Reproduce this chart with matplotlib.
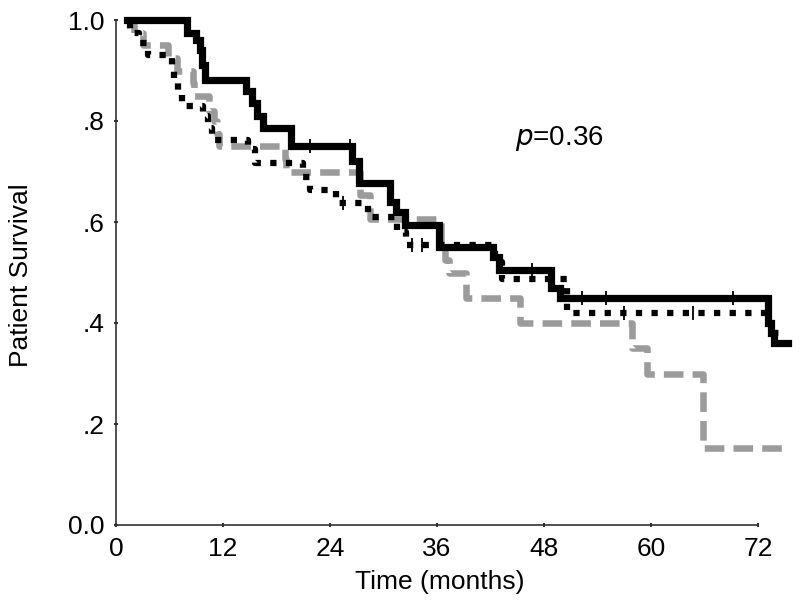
import numpy as np
import matplotlib
matplotlib.use("Agg")
import matplotlib.pyplot as plt

plt.rcParams['font.family'] = ['Liberation Sans', 'DejaVu Sans']

# ---- data (Kaplan-Meier step functions) ----
solid_t = [1.2, 8.0, 9.0, 9.4, 9.7, 10.0, 14.6, 15.2, 15.8, 16.5, 19.6, 26.5, 27.2,
           30.7, 31.4, 32.4, 36.2, 42.3, 43.0, 48.8, 49.8, 73.1, 73.4, 73.8]
solid_s = [1.0, 0.975, 0.96, 0.94, 0.91, 0.881, 0.86, 0.835, 0.81, 0.786, 0.75, 0.72, 0.677,
           0.64, 0.62, 0.594, 0.55, 0.53, 0.505, 0.47, 0.45, 0.40, 0.38, 0.36]
solid_end = 75.4
solid_cens = [21.8, 26.2, 46.7, 52.3, 55.0, 69.2]

dot_t = [1.2, 1.6, 2.6, 3.6, 6.3, 6.5, 7.0, 7.4, 9.8, 10.3, 10.8, 14.8, 15.6, 21.0,
         21.8, 24.7, 28.3, 31.5, 32.5, 42.5, 43.3, 50.6, 73.2, 73.8]
dot_s = [0.99, 0.975, 0.955, 0.93, 0.91, 0.88, 0.857, 0.83, 0.81, 0.786, 0.762, 0.745,
         0.717, 0.69, 0.663, 0.638, 0.61, 0.58, 0.554, 0.52, 0.487, 0.42, 0.40, 0.38]
dot_end = 74.6
dot_cens = [25.5, 33.2, 34.3, 57.0, 64.7]

gray_t = [1.2, 2.0, 3.0, 5.8, 6.8, 8.6, 8.8, 10.4, 11.0, 11.3, 11.5, 18.9, 19.1, 27.4,
          28.5, 36.5, 36.9, 37.3, 39.2, 45.3, 57.9, 59.5, 65.8]
gray_s = [1.0, 0.975, 0.95, 0.925, 0.90, 0.875, 0.85, 0.82, 0.80, 0.775, 0.75, 0.725, 0.70,
          0.653, 0.605, 0.55, 0.525, 0.50, 0.45, 0.40, 0.35, 0.30, 0.152]
gray_end = 75.4

x_ticks = [0, 12, 24, 36, 48, 60, 72]
y_ticks = [0.0, 0.2, 0.4, 0.6, 0.8, 1.0]
y_ticklabels = ['0.0', '.2', '.4', '.6', '.8', '1.0']

# ---- figure ----
fig = plt.figure(figsize=(8.0, 6.07), dpi=100)
ax = fig.add_axes([116/800, 82/607, 677.7/800, 505/607])

def km_xy(t, s, end):
    x = list(t) + [end]
    y = list(s) + [s[-1]]
    return x, y

def surv_at(t, s, q):
    idx = np.searchsorted(np.asarray(t), np.asarray(q), side='right') - 1
    return np.asarray(s)[idx]

gx, gy = km_xy(gray_t, gray_s, gray_end)
ln, = ax.step(gx, gy, where='post', color='#9b9b9b', lw=4.7, clip_on=False, zorder=2)
ln.set_dashes([3.0, 1.4])
ln.set_dash_capstyle('butt')

dx, dy = km_xy(dot_t, dot_s, dot_end)
ln2, = ax.step(dx, dy, where='post', color='black', lw=4.5, clip_on=False, zorder=3)
ln2.set_dashes([1.0, 1.5])
ln2.set_dash_capstyle('butt')

sx, sy = km_xy(solid_t, solid_s, solid_end)
ax.step(sx, sy, where='post', color='black', lw=5.2, clip_on=False, zorder=4,
        solid_joinstyle='miter')

ax.plot(solid_cens, surv_at(solid_t, solid_s, solid_cens), ls='none', marker='|',
        ms=9.5, mew=1.3, color='black', zorder=5)
ax.plot(dot_cens, surv_at(dot_t, dot_s, dot_cens), ls='none', marker='|',
        ms=9.5, mew=1.3, color='black', zorder=5)

ax.set_xlim(0, 76)
ax.set_ylim(0, 1.0)
ax.set_xticks(x_ticks)
ax.set_yticks(y_ticks)
ax.set_yticklabels(y_ticklabels)

for side in ['top', 'right']:
    ax.spines[side].set_visible(False)
ax.spines['left'].set_bounds(0, 1.0)
ax.spines['bottom'].set_bounds(0, 72)
for side in ['left', 'bottom']:
    ax.spines[side].set_linewidth(1.2)
    ax.spines[side].set_color('#333333')

ax.tick_params(axis='both', direction='inout', length=3, width=1.5, colors='#333333',
               labelsize=19, labelcolor='black')
ax.tick_params(axis='y', pad=7)
ax.tick_params(axis='x', pad=7)

ax.set_xlabel('Time (months)', fontsize=19)
ax.set_ylabel('Patient Survival', fontsize=19)
ax.xaxis.set_label_coords((440-116)/677.7, (525-570)/505)
ax.yaxis.set_label_coords((33-116)/677.7, 0.495)

ax.text(44.7, 0.766, r'$\mathit{p}$' + '=0.36', fontsize=20,
        ha='left', va='center')

fig.savefig('out.png', dpi=100)
